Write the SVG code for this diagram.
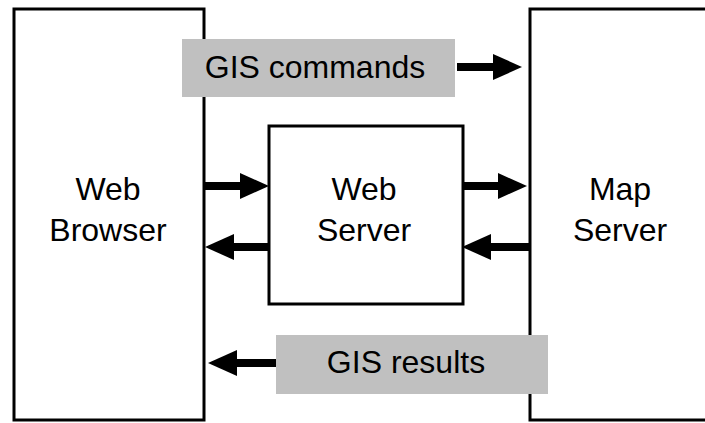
<svg xmlns="http://www.w3.org/2000/svg" width="705" height="423" viewBox="0 0 705 423">
<style>
.box{fill:#fff;stroke:#000;stroke-width:3}
.lbl{fill:#c0c0c0;stroke:none}
.t{font-family:"Liberation Sans",Arial,sans-serif;font-size:32px;fill:#000;text-anchor:middle}
.arr{stroke:#000;stroke-width:8;fill:none;marker-end:url(#ah)}
</style>
<defs>
<marker id="ah" markerUnits="userSpaceOnUse" markerWidth="30" markerHeight="26" refX="0" refY="13" orient="auto">
<path d="M0,0 L29,13 L0,26 z" fill="#000"/>
</marker>
</defs>
<rect width="705" height="423" fill="#fff"/>
<g id="web-browser">
<rect class="box" x="14" y="9" width="190" height="411"/>
<text class="t" x="108" y="200">Web</text>
<text class="t" x="108" y="241">Browser</text>
</g>
<g id="map-server">
<rect class="box" x="530" y="9" width="200" height="411"/>
<text class="t" x="620" y="200">Map</text>
<text class="t" x="620" y="241">Server</text>
</g>
<g id="web-server">
<rect class="box" x="269" y="126" width="194" height="178"/>
<text class="t" x="364" y="200">Web</text>
<text class="t" x="364" y="241">Server</text>
</g>
<g id="gis-commands">
<rect class="lbl" x="182" y="39" width="273" height="58"/>
<text class="t" x="315" y="78">GIS commands</text>
</g>
<g id="gis-results">
<rect class="lbl" x="276" y="335" width="272" height="59"/>
<text class="t" x="406" y="373">GIS results</text>
</g>
<g id="connectors">
<line class="arr" x1="457" y1="67" x2="493" y2="67"/>
<line class="arr" x1="205" y1="186" x2="240" y2="186"/>
<line class="arr" x1="268" y1="247" x2="234" y2="247"/>
<line class="arr" x1="463" y1="186" x2="498" y2="186"/>
<line class="arr" x1="529" y1="247" x2="491" y2="247"/>
<line class="arr" x1="276" y1="363" x2="237" y2="363"/>
</g>
</svg>
